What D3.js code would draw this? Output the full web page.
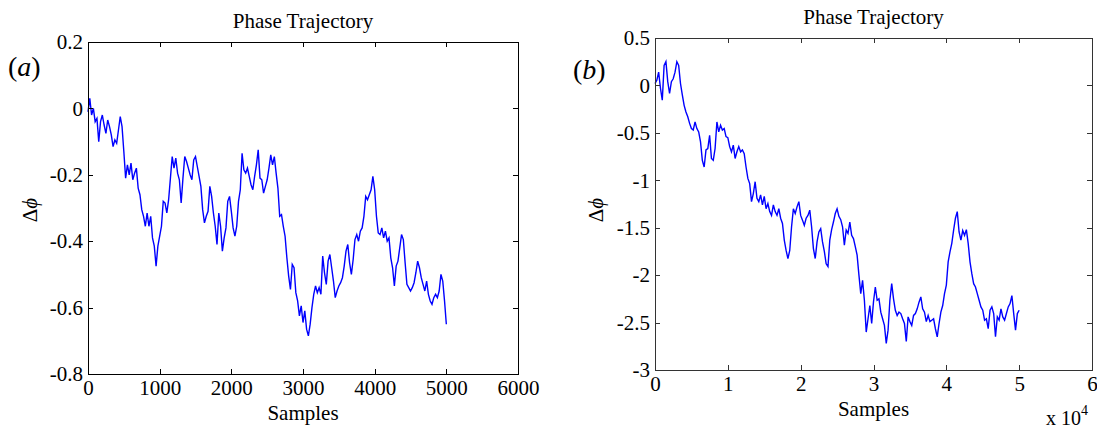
<!DOCTYPE html>
<html>
<head>
<meta charset="utf-8">
<script src="https://cdn.jsdelivr.net/npm/d3@7"></script>
<style>
  body { margin: 0; background: #fff; }
  svg { display: block; }
  text { font-family: "Liberation Serif", "Times New Roman", serif; fill: #000; }
</style>
</head>
<body>
<svg id="chart" width="1097" height="428"></svg>
<script>
// (a) phase difference, one value every 25 samples (0 .. 5000)
const phaseA = [
  -0.01, 0.03, -0.02, 0.00, -0.04, -0.03, -0.10, -0.04, -0.02, -0.05,
  -0.075, -0.035, -0.055, -0.08, -0.115, -0.095, -0.105, -0.065, -0.025, -0.055,
  -0.13, -0.21, -0.17, -0.20, -0.165, -0.215, -0.195, -0.18, -0.24, -0.26,
  -0.305, -0.325, -0.355, -0.315, -0.355, -0.325, -0.39, -0.415, -0.475, -0.415,
  -0.385, -0.355, -0.28, -0.285, -0.315, -0.275, -0.21, -0.145, -0.18, -0.15,
  -0.195, -0.215, -0.285, -0.21, -0.145, -0.16, -0.18, -0.20, -0.215, -0.155,
  -0.145, -0.175, -0.205, -0.235, -0.305, -0.345, -0.325, -0.31, -0.235, -0.265,
  -0.315, -0.355, -0.41, -0.315, -0.355, -0.43, -0.39, -0.36, -0.28, -0.265,
  -0.31, -0.36, -0.385, -0.355, -0.28, -0.245, -0.135, -0.185, -0.195, -0.18,
  -0.205, -0.23, -0.245, -0.205, -0.17, -0.125, -0.21, -0.215, -0.255, -0.235,
  -0.215, -0.18, -0.14, -0.17, -0.145, -0.195, -0.24, -0.325, -0.32, -0.355,
  -0.385, -0.45, -0.505, -0.545, -0.47, -0.48, -0.555, -0.58, -0.625, -0.595,
  -0.645, -0.61, -0.665, -0.685, -0.65, -0.60, -0.56, -0.535, -0.555, -0.54,
  -0.56, -0.445, -0.495, -0.53, -0.46, -0.44, -0.48, -0.52, -0.57, -0.55,
  -0.535, -0.525, -0.51, -0.475, -0.43, -0.41, -0.465, -0.50, -0.455, -0.395,
  -0.38, -0.40, -0.37, -0.36, -0.325, -0.265, -0.275, -0.26, -0.245, -0.205,
  -0.245, -0.325, -0.375, -0.38, -0.36, -0.39, -0.37, -0.40, -0.39, -0.45,
  -0.48, -0.535, -0.475, -0.46, -0.42, -0.38, -0.395, -0.465, -0.53, -0.54,
  -0.55, -0.54, -0.525, -0.495, -0.46, -0.48, -0.51, -0.53, -0.55, -0.52,
  -0.56, -0.58, -0.59, -0.57, -0.56, -0.57, -0.55, -0.50, -0.52, -0.58,
  -0.65
];

// (b) phase difference, one value every 250 samples (0 .. 50000)
const phaseB = [
  0.02, 0.055, 0.14, -0.03, -0.155, 0.21, 0.25, 0.04, -0.085, 0.04,
  0.07, 0.14, 0.25, 0.21, 0.02, -0.10, -0.21, -0.28, -0.33, -0.40,
  -0.455, -0.47, -0.385, -0.455, -0.49, -0.595, -0.79, -0.86, -0.68, -0.665,
  -0.525, -0.77, -0.79, -0.665, -0.385, -0.49, -0.42, -0.47, -0.455, -0.54,
  -0.55, -0.645, -0.70, -0.63, -0.77, -0.70, -0.645, -0.70, -0.68, -0.72,
  -0.86, -0.98, -1.035, -1.225, -1.14, -1.015, -1.19, -1.225, -1.155, -1.26,
  -1.17, -1.30, -1.245, -1.33, -1.37, -1.26, -1.33, -1.37, -1.30, -1.40,
  -1.455, -1.63, -1.74, -1.825, -1.74, -1.49, -1.30, -1.35, -1.28, -1.225,
  -1.37, -1.42, -1.475, -1.40, -1.37, -1.315, -1.49, -1.72, -1.825, -1.65,
  -1.545, -1.51, -1.65, -1.75, -1.88, -1.91, -1.63, -1.52, -1.44, -1.35,
  -1.30, -1.38, -1.415, -1.49, -1.685, -1.525, -1.56, -1.44, -1.58, -1.615,
  -1.70, -1.79, -2.00, -2.195, -2.055, -2.265, -2.60, -2.46, -2.32, -2.51,
  -2.28, -2.125, -2.265, -2.25, -2.39, -2.46, -2.53, -2.72, -2.58, -2.265,
  -2.09, -2.25, -2.37, -2.425, -2.39, -2.405, -2.46, -2.51, -2.70, -2.44,
  -2.49, -2.53, -2.425, -2.405, -2.355, -2.285, -2.23, -2.355, -2.39, -2.49,
  -2.425, -2.49, -2.475, -2.46, -2.565, -2.65, -2.51, -2.39, -2.32, -2.195,
  -2.105, -1.86, -1.755, -1.665, -1.525, -1.40, -1.33, -1.545, -1.63, -1.53,
  -1.58, -1.52, -1.665, -1.86, -1.985, -2.09, -2.125, -2.195, -2.265, -2.335,
  -2.37, -2.475, -2.46, -2.565, -2.37, -2.335, -2.405, -2.65, -2.44, -2.475,
  -2.355, -2.44, -2.475, -2.405, -2.335, -2.30, -2.215, -2.405, -2.58, -2.405,
  -2.37
];

const xTicksA = [0, 1000, 2000, 3000, 4000, 5000, 6000];
const yTicksA = [0.2, 0, -0.2, -0.4, -0.6, -0.8];
const xTicksB = [0, 1, 2, 3, 4, 5, 6];            // x 10^4
const yTicksB = [0.5, 0, -0.5, -1, -1.5, -2, -2.5, -3];

const svg = d3.select('#chart');

function drawPanel(p) {
    const g = svg.append('g');
    const x = d3.scaleLinear().domain(p.xDomain).range([p.left, p.right]);
    const y = d3.scaleLinear().domain(p.yDomain).range([p.bottom, p.top]);

    const line = d3.line()
        .x((d, i) => x(i * p.step))
        .y(d => y(d));

    g.append('path')
        .datum(p.values)
        .attr('fill', 'none')
        .attr('stroke', '#0000ff')
        .attr('stroke-width', 1.4)
        .attr('stroke-linejoin', 'miter')
        .attr('d', line);

    const fmt = v => String(v);
    const styleAxis = sel => {
        sel.selectAll('path, line')
            .attr('stroke', p.axisColor)
            .attr('shape-rendering', 'crispEdges');
        sel.selectAll('text')
            .attr('font-size', 21)
            .attr('font-family', '"Liberation Serif", "Times New Roman", serif')
            .attr('fill', '#000');
    };

    g.append('g').attr('transform', `translate(0,${p.bottom})`)
        .call(d3.axisBottom(x).tickValues(p.xTicks).tickFormat(fmt)
            .tickSizeInner(-5).tickSizeOuter(0).tickPadding(6))
        .call(styleAxis);
    g.append('g').attr('transform', `translate(0,${p.top})`)
        .call(d3.axisTop(x).tickValues(p.xTicks).tickFormat('')
            .tickSizeInner(-5).tickSizeOuter(0))
        .call(styleAxis);
    g.append('g').attr('transform', `translate(${p.left},0)`)
        .call(d3.axisLeft(y).tickValues(p.yTicks).tickFormat(fmt)
            .tickSizeInner(-5).tickSizeOuter(0).tickPadding(5))
        .call(styleAxis);
    g.append('g').attr('transform', `translate(${p.right},0)`)
        .call(d3.axisRight(y).tickValues(p.yTicks).tickFormat('')
            .tickSizeInner(-5).tickSizeOuter(0))
        .call(styleAxis);

    const cx = (p.left + p.right) / 2;

    g.append('text')
        .attr('x', cx).attr('y', p.titleY)
        .attr('text-anchor', 'middle')
        .attr('font-size', 21)
        .text('Phase Trajectory');

    g.append('text')
        .attr('x', cx).attr('y', p.bottom + 46)
        .attr('text-anchor', 'middle')
        .attr('font-size', 21)
        .text('Samples');

    const yl = g.append('text')
        .attr('transform', `translate(${p.ylabX},${p.ylabY}) rotate(-90)`)
        .attr('text-anchor', 'middle')
        .attr('font-size', 21);
    yl.append('tspan').text('\u0394');
    yl.append('tspan').attr('font-style', 'italic').text('\u03d5');

    const tag = g.append('text')
        .attr('x', p.tagX).attr('y', p.tagY)
        .attr('font-size', 28);
    tag.append('tspan').text('(');
    tag.append('tspan').attr('font-style', 'italic').text(p.tag);
    tag.append('tspan').text(')');

    return { g, x, y };
}

drawPanel({
    values: phaseA, step: 25, xDomain: [0, 6000], yDomain: [-0.8, 0.2],
    xTicks: xTicksA, yTicks: yTicksA,
    left: 88, right: 518, top: 42, bottom: 374,
    axisColor: '#000', titleY: 28, ylabX: 37, ylabY: 210,
    tag: 'a', tagX: 8, tagY: 76
});

const pb = drawPanel({
    values: phaseB, step: 0.025, xDomain: [0, 6], yDomain: [-3, 0.5],
    xTicks: xTicksB, yTicks: yTicksB,
    left: 655, right: 1092, top: 38, bottom: 370,
    axisColor: '#333', titleY: 24, ylabX: 603, ylabY: 210,
    tag: 'b', tagX: 573, tagY: 79
});

// exponent note for the x axis of (b)
const ex = pb.g.append('text')
    .attr('x', 1046).attr('y', 425)
    .attr('font-size', 20);
ex.append('tspan').text('x 10');
ex.append('tspan').attr('dy', -10).attr('font-size', 14).text('4');
</script>
</body>
</html>
